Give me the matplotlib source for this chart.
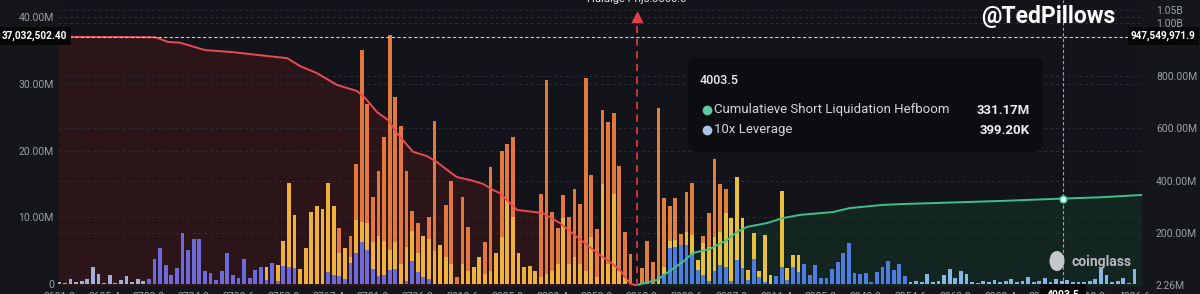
import matplotlib
matplotlib.use("Agg")
import matplotlib.pyplot as plt
from matplotlib.patches import FancyBboxPatch, Ellipse
from matplotlib.lines import Line2D
import numpy as np

plt.rcParams['font.family'] = ['Roboto', 'DejaVu Sans']

W, H = 1200, 294

# price bins (x categories)
price_start = 3681.0
price_step = 1.8
current_price = 3866.6
hover_price = 4003.5

# liquidation leverage per price bin, millions (stacked bottom -> top)
lev10 = [0.3, 0.2, 0.7, 0.3, 0.4, 0.7, 2.6, 1.5, 0.2, 1.3,
         0.2, 0.6, 1.2, 0.3, 0.8, 0.5, 0, 0, 0, 0,
         0, 0, 0, 0, 0, 0, 0, 0, 0, 0,
         0, 0, 0, 0, 0, 0, 0, 0, 0, 0,
         0, 0, 0, 0, 0, 0, 0, 0, 0, 0,
         0, 0, 0, 0, 0, 0, 0, 0, 0, 0,
         0, 0, 0, 0, 0, 0, 0, 0, 0, 0,
         0, 0, 0, 0, 0, 0, 0, 0, 0, 0,
         0, 0, 0, 0, 0, 0, 0, 0, 0, 0,
         0, 0, 0, 0, 0, 0, 0, 0, 0, 0,
         0, 0, 0, 0, 0, 0, 0, 0, 0, 0,
         0, 0, 0, 0, 0, 0, 0, 0, 0, 0,
         0, 0, 0, 0, 0, 0, 0, 0, 0, 0,
         0, 0, 0, 0, 0, 0, 0, 0, 0, 0,
         0, 0, 0, 0, 0, 0, 0, 0, 0, 0,
         0, 0, 0.3, 0.4, 0.3, 1.5, 0.3, 0.4, 1.4, 2.2,
         0.9, 2.0, 1.5, 0.3, 0.2, 0.5, 0.3, 0.6, 0.3, 0.4,
         0.8, 0.3, 0.5, 1.0, 0.3, 0.4, 0.9, 0.3, 0.7, 0.4,
         0.6, 0.3, 0.3, 0.3, 0.5, 0.8, 2.2, 1.4, 0.3, 0.4,
         0.9, 0.2, 2.2]
lev25 = [0, 0, 0, 0, 0, 0, 0, 0, 0, 0,
         0, 0, 0, 0, 0, 0, 0.8, 3.7, 5.4, 2.8,
         1.4, 2.4, 7.6, 5.1, 6.8, 6.8, 1.9, 1.6, 0.6, 1.9,
         4.7, 1.3, 0.9, 3.8, 0.9, 2.1, 2.5, 0.6, 3.2, 0.5,
         2.7, 2.5, 2.4, 0, 0, 0, 0, 0, 1.8, 1.4,
         1.2, 0.8, 3.1, 4.6, 6.3, 5.1, 2.3, 1.2, 1.4, 2.1,
         2.3, 0, 0.5, 3.5, 1.8, 1.0, 0.7, 0, 0, 0,
         0, 0, 0, 0, 0, 0, 0, 0, 0, 0,
         0, 0, 0, 0, 0, 0, 0, 0, 0, 0,
         0, 0, 0, 0, 0, 0, 0, 0, 0, 0,
         0, 0, 0, 0, 0, 0, 0, 0, 1.5, 5.4,
         5.6, 5.9, 5.8, 4.3, 2.1, 1.3, 0.5, 2.0, 2.8, 2.6,
         0.5, 3.6, 2.4, 0.6, 3.8, 1.0, 0.3, 0, 1.2, 2.6,
         0.6, 2.6, 1.8, 3.0, 1.4, 2.8, 0.9, 0.9, 2.3, 3.3,
         4.7, 6.2, 1.7, 1.5, 1.7, 0.3, 1.8, 2.5, 3.5, 2.1,
         3.0, 1.2, 0, 0, 0, 0, 0, 0, 0, 0,
         0, 0, 0, 0, 0, 0, 0, 0, 0, 0,
         0, 0, 0, 0, 0, 0, 0, 0, 0, 0,
         0, 0, 0, 0, 0, 0, 0, 0, 0, 0,
         0, 0, 0]
lev50 = [0, 0, 0, 0, 0, 0, 0, 0, 0, 0,
         0, 0, 0, 0, 0, 0, 0, 0, 0, 0,
         0, 0, 0, 0, 0, 0, 0, 0, 0, 0,
         0, 0, 0, 0, 0, 0, 0, 2.0, 0, 2.3,
         3.8, 12.6, 7.9, 2.3, 5.4, 10.8, 11.7, 11.2, 13.4, 10.3,
         3.4, 4.6, 1.0, 5.0, 3.0, 4.0, 4.0, 6.0, 5.0, 3.0,
         4.0, 3.0, 5.0, 4.5, 2.8, 6.2, 6.0, 5.0, 5.8, 4.0,
         3.0, 0, 3.0, 2.0, 2.6, 4.0, 1.5, 2.0, 4.7, 7.0,
         12.6, 10.0, 4.7, 2.6, 2.7, 2.0, 1.0, 1.5, 2.0, 3.0,
         9.9, 3.0, 4.0, 3.0, 2.0, 7.0, 1.0, 15.0, 3.0, 13.5,
         2.0, 1.0, 0, 0, 0, 0, 0, 1.0, 1.0, 1.0,
         1.0, 0, 2.0, 3.0, 1.5, 4.8, 5.0, 5.0, 5.0, 8.0,
         9.4, 12.4, 7.5, 1.5, 3.8, 1.0, 7.0, 1.4, 0, 11.4,
         1.8, 1.8, 2.6, 0, 0, 0, 0, 0, 0, 0,
         0, 0, 0, 0, 0, 0, 0, 0, 0, 0,
         0, 0, 0, 0, 0, 0, 0, 0, 0, 0,
         0, 0, 0, 0, 0, 0, 0, 0, 0, 0,
         0, 0, 0, 0, 0, 0, 0, 0, 0, 0,
         0, 0, 0, 0, 0, 0, 0, 0, 0, 0,
         0, 0, 0]
lev100 = [0, 0, 0, 0, 0, 0, 0, 0, 0, 0,
          0, 0, 0, 0, 0, 0, 0, 0, 0, 0,
          0, 0, 0, 0, 0, 0, 0, 0, 0, 0,
          0, 0, 0, 0, 0, 0, 0, 0, 0, 0,
          0, 0, 0, 0, 0, 0, 0, 0, 0, 0,
          3.8, 0, 3.1, 8.4, 25.7, 17.9, 6.7, 9.8, 15.6, 32.2,
          21.7, 20.7, 11.5, 3.0, 4.5, 0, 3.3, 19.4, 0, 7.8,
          12.4, 1.0, 10.0, 6.6, 0, 0, 4.8, 15.5, 0, 13.0,
          8.4, 12.0, 0, 0, 0, 0, 12.5, 29.1, 8.8, 5.4,
          3.4, 7.0, 10.2, 9.0, 28.9, 9.3, 7.2, 11.0, 21.3, 12.1,
          15.7, 6.8, 4.5, 0, 2.4, 6.4, 3.3, 25.4, 10.4, 5.3,
          6.3, 1.6, 6.0, 7.8, 0, 1.1, 5.1, 11.7, 7.2, 3.6,
          0, 0, 0, 0, 0, 0, 0, 0, 0, 0,
          0, 0, 0, 0, 0, 0, 0, 0, 0, 0,
          0, 0, 0, 0, 0, 0, 0, 0, 0, 0,
          0, 0, 0, 0, 0, 0, 0, 0, 0, 0,
          0, 0, 0, 0, 0, 0, 0, 0, 0, 0,
          0, 0, 0, 0, 0, 0, 0, 0, 0, 0,
          0, 0, 0, 0, 0, 0, 0, 0, 0, 0,
          0, 0, 0]

# cumulative long liquidation (right axis, millions)
long_px = [3680.6, 3711.8, 3715.9, 3719.8, 3727.8, 3736.8, 3754.2, 3758.4, 3763.8,
           3770.3, 3776.7, 3779.3, 3783.1, 3786.7, 3789.5, 3792.8, 3794.7, 3799.2,
           3802.4, 3806.6, 3808.8, 3813.0, 3817.2, 3820.4, 3822.6, 3828.1, 3836.4,
           3841.9, 3847.4, 3854.8, 3858.0, 3861.2, 3864.4, 3866.6]
long_cum = [947.5, 946, 928, 925, 897, 889, 866, 836, 809,
            764, 741, 714, 661, 630, 581, 535, 509, 493,
            470, 432, 413, 402, 387, 364, 352, 288, 276,
            238, 185, 116, 90, 59, 8, 0]

# cumulative short liquidation (right axis, millions)
short_px = [3866.6, 3867.6, 3873.1, 3876.3, 3881.4, 3884.7, 3890.1, 3895.6, 3898.8,
            3902.0, 3908.5, 3913.6, 3919.1, 3929.7, 3935.1, 3945.7, 3951.2, 3967.3,
            3983.4, 4003.5, 4015.5, 4029.0]
short_cum = [0, 5, 21, 48, 90, 124, 139, 173, 204,
             223, 238, 257, 269, 280, 295, 307, 310, 316,
             322, 331.17, 336, 345]

left_ticks = [0, 10, 20, 30, 40]
left_labels = ['0', '10.00M', '20.00M', '30.00M', '40.00M']
right_ticks = [2.26, 200, 400, 600, 800, 1000, 1050]
right_labels = ['2.26M', '200.00M', '400.00M', '600.00M', '800.00M', '1.00B', '1.05B']


def r2l(r):
    return (0.2625 * np.asarray(r, dtype=float) - 1.5) / 6.675


def l2r(l):
    return (6.675 * np.asarray(l, dtype=float) + 1.5) / 0.2625


def pix2l(y):
    return (284 - y) / 6.675


prices = price_start + price_step * np.arange(len(lev10))
left = prices < current_price
l10, l25, l50, l100 = (np.array(a) for a in (lev10, lev25, lev50, lev100))

fig = plt.figure(figsize=(W / 100, H / 100), dpi=100, facecolor='#14161a')
ax = fig.add_axes([58 / W, 8 / H, 1084 / W, 286 / H])
ax.set_facecolor('#121419')
ax.set_xlim(3680.58, 4029.0)
ax.set_ylim(-0.30, 42.55)
ybot = -0.30

# background fills under cumulative lines
ax.fill_between(long_px, r2l(long_cum), ybot, color='#2c1519', lw=0, zorder=1)
ax.fill_between(short_px, r2l(short_cum), ybot, color='#132521', lw=0, zorder=1)

for v in left_ticks[1:]:
    ax.axhline(v, color='#2b2e35', lw=0.7, ls=(0, (3, 3)), zorder=1.5)
for r in right_ticks[1:]:
    ax.axhline(r2l(r), color='#2b2e35', lw=0.7, ls=(0, (3, 3)), zorder=1.5)

bw = price_step * 0.7
c10 = np.where(left, '#a3b0de', '#86b5ea')
c25 = np.where(left, '#6c6adc', '#4d7de3')
c50 = np.where(left, '#f0b03a', '#e8c03c')
c100 = np.where(left, '#e4773c', '#e0803a')
ax.bar(prices, l10, bw, color=c10, zorder=2)
ax.bar(prices, l25, bw, bottom=l10, color=c25, zorder=2)
ax.bar(prices, l50, bw, bottom=l10 + l25, color=c50, zorder=2)
ax.bar(prices, l100, bw, bottom=l10 + l25 + l50, color=c100, zorder=2)

ax.plot(long_px, r2l(long_cum), color='#ea4a52', lw=1.4, zorder=3)
ax.plot(short_px, r2l(short_cum), color='#3fbf8f', lw=1.4, zorder=3)

# current price marker
ax.plot([current_price, current_price], [ybot, pix2l(20)], color='#d9363e',
        lw=1.3, ls=(0, (4, 3)), zorder=4)
ax.plot(current_price, pix2l(17), marker='^', ms=7, color='#e0404a', zorder=4)
ax.text(current_price, pix2l(-1.5), 'Huidige Prijs:3866.6', ha='center', va='center',
        fontsize=8, color='#e6e6e6', clip_on=False)

# crosshair
ax.axhline(37.0325, color='#c8ccd2', lw=0.8, ls=(0, (3, 2)), zorder=4)
ax.axvline(hover_price, color='#9ea3ab', lw=0.8, ls=(0, (3, 2)), zorder=4)
ax.plot(hover_price, r2l(331.17), 'o', ms=5, mfc='#eaf7f1', mec='#3fbf8f', zorder=5)

ax.set_yticks(left_ticks)
ax.set_yticklabels(left_labels)
ax.tick_params(axis='y', length=0, pad=3, labelsize=7.5, labelcolor='#9aa0a8')
ax.set_xticks(prices[::8])
ax.set_xticklabels([f'{p:.1f}' for p in prices[::8]])
ax.tick_params(axis='x', length=0, pad=4, labelsize=7.5, labelcolor='#9aa0a8')
for s in ax.spines.values():
    s.set_visible(False)

sec = ax.secondary_yaxis('right', functions=(l2r, r2l))
sec.set_yticks(right_ticks)
sec.set_yticklabels(right_labels)
sec.tick_params(length=0, pad=10, labelsize=7.5, labelcolor='#9aa0a8')
for s in sec.spines.values():
    s.set_visible(False)

# crosshair value boxes
box = dict(boxstyle='square,pad=0.35', fc='#050607', ec='none')
fig.text(2 / W, 1 - 36 / H, '37,032,502.40', ha='left', va='center', fontsize=7.2,
         weight='bold', color='white', bbox=box)
fig.text(1131 / W, 1 - 36 / H, '947,549,971.9', ha='left', va='center', fontsize=7.2,
         weight='bold', color='white', bbox=box)
fig.text(1063 / W, 1 - 290 / H, '4003.5', ha='center', va='top', fontsize=7.5,
         weight='bold', color='white', bbox=dict(boxstyle='square,pad=0.6', fc='#050607', ec='none'))

# tooltip
tip = FancyBboxPatch((688 / W, 1 - 152 / H), 355 / W, 95 / H,
                     boxstyle='round,pad=0,rounding_size=%f' % (9 / W),
                     mutation_aspect=W / H, transform=fig.transFigure,
                     fc='#0b0d11', ec='none')
fig.add_artist(tip)
fig.text(700 / W, 1 - 81 / H, '4003.5', va='center', fontsize=9, weight='medium', color='#ececec')
rows = [(110, '#5cc9a0', 'Cumulatieve Short Liquidation Hefboom', '331.17M'),
        (130, '#a9c4ea', '10x Leverage', '399.20K')]
for y, col, name, val in rows:
    fig.add_artist(Line2D([707 / W], [1 - y / H], marker='o', ms=6, color=col,
                          transform=fig.transFigure))
    fig.text(714 / W, 1 - y / H, name, va='center', fontsize=9.5, color='#d4d6da')
    fig.text(1030 / W, 1 - y / H, val, va='center', ha='right', fontsize=9.5,
             weight='bold', color='#ececec')

# watermarks
fig.text(1048 / W, 1 - 16 / H, '@TedPillows', ha='center', va='center', fontsize=16.5,
         weight='bold', color='white')
fig.add_artist(Ellipse((1057 / W, 1 - 261 / H), 15 / W, 20 / H, transform=fig.transFigure,
                       fc='#c4c7cc', ec='none'))
fig.text(1071 / W, 1 - 262 / H, 'coinglass', va='center', fontsize=10, weight='bold',
         color='#b7bbc1')

fig.savefig('out.png', dpi=100, facecolor=fig.get_facecolor())
